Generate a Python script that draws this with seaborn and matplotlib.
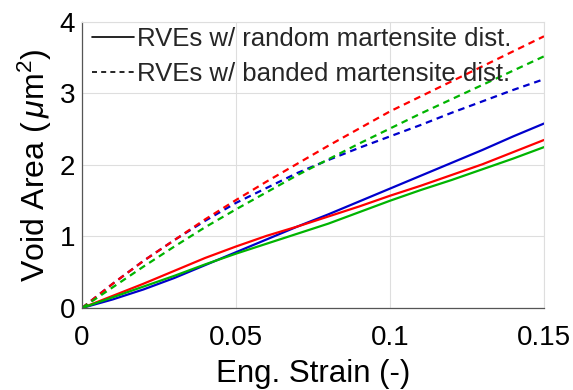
import numpy as np
import pandas as pd
import matplotlib
matplotlib.use("Agg")
import matplotlib.pyplot as plt
from matplotlib.lines import Line2D
import seaborn as sns

strain = [0.00, 0.01, 0.02, 0.03, 0.04, 0.05, 0.06, 0.07,
          0.08, 0.09, 0.10, 0.11, 0.12, 0.13, 0.14, 0.15]

random_blue = [0.00, 0.12, 0.26, 0.42, 0.60, 0.78, 0.96, 1.14,
               1.31, 1.49, 1.67, 1.85, 2.03, 2.21, 2.40, 2.58]
random_red = [0.00, 0.17, 0.34, 0.52, 0.70, 0.86, 1.01, 1.14,
              1.28, 1.42, 1.57, 1.71, 1.86, 2.01, 2.18, 2.35]
random_green = [0.00, 0.15, 0.30, 0.45, 0.61, 0.76, 0.90, 1.04,
                1.18, 1.34, 1.50, 1.65, 1.79, 1.94, 2.09, 2.25]

banded_red = [0.00, 0.34, 0.66, 0.95, 1.24, 1.51, 1.77, 2.02,
              2.27, 2.51, 2.75, 2.96, 3.17, 3.38, 3.59, 3.80]
banded_green = [0.00, 0.29, 0.58, 0.86, 1.13, 1.38, 1.62, 1.86,
                2.08, 2.30, 2.51, 2.72, 2.92, 3.12, 3.32, 3.52]
banded_blue = [0.00, 0.34, 0.66, 0.95, 1.22, 1.47, 1.68, 1.89,
               2.07, 2.24, 2.40, 2.56, 2.73, 2.89, 3.05, 3.20]

legend_labels = ["RVEs w/ random martensite dist.",
                 "RVEs w/ banded martensite dist."]
x_ticks = [0, 0.05, 0.1, 0.15]
x_tick_labels = ["0", "0.05", "0.1", "0.15"]
y_ticks = [0, 1, 2, 3, 4]

series = {
    ("blue", "random"): random_blue,
    ("red", "random"): random_red,
    ("green", "random"): random_green,
    ("red", "banded"): banded_red,
    ("green", "banded"): banded_green,
    ("blue", "banded"): banded_blue,
}
rows = []
for (col, dist), vals in series.items():
    for s, v in zip(strain, vals):
        rows.append({"strain": s, "area": v, "case": col, "dist": dist})
df = pd.DataFrame(rows)

sns.set_style("white")
plt.rcParams["font.family"] = ["Liberation Sans", "DejaVu Sans"]
plt.rcParams["mathtext.fontset"] = "custom"
plt.rcParams["mathtext.rm"] = "Liberation Sans"
plt.rcParams["mathtext.it"] = "Liberation Sans:italic"

fig = plt.figure(figsize=(5.73, 3.90), dpi=100)
ax = fig.add_axes([0.1431, 0.2103, 0.9494 - 0.1431, 0.9436 - 0.2103])

palette = {"blue": "#0000CC", "red": "#FF0000", "green": "#00B400"}
dash_map = {"random": "", "banded": (3, 2.2)}
sns.lineplot(data=df, x="strain", y="area", hue="case", style="dist",
             palette=palette, dashes=dash_map, linewidth=1.6,
             estimator=None, sort=False, legend=False, ax=ax)

ax.set_xlim(0, 0.15)
ax.set_ylim(0, 4)
ax.set_xticks(x_ticks)
ax.set_xticklabels(x_tick_labels)
ax.set_yticks(y_ticks)
ax.grid(True, color="#DEDEDE", linewidth=0.8)
ax.set_axisbelow(True)
for side in ["top", "right"]:
    ax.spines[side].set_color("#DEDEDE")
    ax.spines[side].set_linewidth(0.8)
for side in ["left", "bottom"]:
    ax.spines[side].set_color("#555555")
    ax.spines[side].set_linewidth(0.9)
ax.tick_params(direction="in", length=4, width=0.9, color="#555555",
               labelsize=20, labelcolor="#000000")
ax.tick_params(axis="x", pad=12)
ax.tick_params(axis="y", pad=5)

ax.set_xlabel("Eng. Strain (-)", fontsize=22.5, color="#000000", labelpad=6)
ax.set_ylabel("Void Area ($\\,\\mu$m$^2$)", fontsize=23, color="#000000", labelpad=4)

handles = [Line2D([0], [0], color="#000000", linewidth=1.2),
           Line2D([0], [0], color="#000000", linewidth=1.2, dashes=(3, 2.5))]
leg = ax.legend(handles, legend_labels, loc="upper left", frameon=False,
                fontsize=18.5, handlelength=1.65, handletextpad=0.12,
                borderaxespad=0.0, borderpad=0.2, labelspacing=0.43,
                bbox_to_anchor=(0.01, 1.0))
for t in leg.get_texts():
    t.set_color("#262626")

fig.savefig("out.png", dpi=100)
